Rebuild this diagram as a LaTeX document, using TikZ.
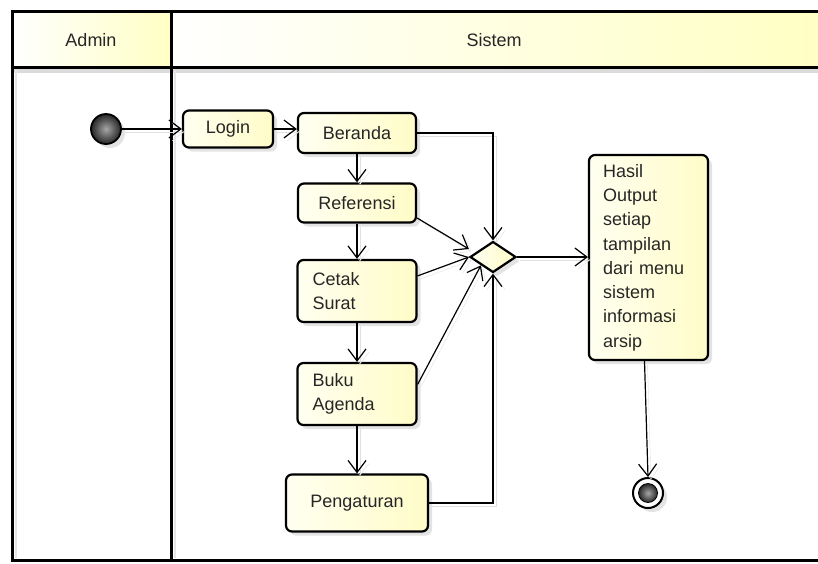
\documentclass[tikz,border=0pt]{standalone}
\usepackage{fontspec}
\setmainfont{Liberation Sans}
\usetikzlibrary{arrows.meta,shapes.geometric,shadows,calc}

\definecolor{cream}{RGB}{255,255,240}
\definecolor{creamdeep}{RGB}{255,252,200}
\definecolor{lanefill}{RGB}{255,255,196}

\begin{document}
\begin{tikzpicture}[x=1pt,y=-1pt,
  font=\fontsize{18}{24.3}\selectfont,
  act/.style={draw=black, line width=2.2pt, rounded corners=6pt,
    left color=cream, right color=creamdeep, text=black!85, inner sep=0pt,
    drop shadow={shadow xshift=4pt, shadow yshift=-4pt, fill=black!22}},
  flow/.style={line width=1.2pt, -{Straight Barb[length=12pt,width=18pt]},
    preaction={draw=black!12, transform canvas={shift={(3pt,-3pt)}}}},
  lane/.style={line width=3pt, line cap=rect},
  pseudo/.style={circle, inner sep=0pt,
    drop shadow={shadow xshift=4pt, shadow yshift=-4pt, fill=black!22}}
]
\useasboundingbox (0,0) rectangle (818,563);

% swimlane headers
\fill[left color=white, right color=lanefill] (12,11) rectangle (171,67);
\fill[left color=white, right color=lanefill] (171,11) rectangle (818,67);
% soft shadows of the lane borders
\fill[black!14] (12,69) rectangle (818,73);
\draw[black!10, line width=2pt] (16,70) -- (16,558);
\draw[black!10, line width=2pt] (175,70) -- (175,558);
% lane borders
\draw[lane] (12,11) -- (818,11);
\draw[lane] (12,67) -- (818,67);
\draw[lane] (12,560) -- (818,560);
\draw[lane] (12,11) -- (12,560);
\draw[lane] (171,11) -- (171,560);

\node[text=black!85] (adminhd) at (91,40) {Admin};
\node[text=black!85] (sistemhd) at (494,40) {Sistem};

% start and end
\node[pseudo, draw=black, line width=1.8pt, minimum size=30pt,
      inner color=gray!70, outer color=black!85] (init) at (106,129) {};
\node[pseudo, draw=black, line width=2pt, minimum size=30pt, fill=white] (final) at (648,493) {};
\node[circle, inner sep=0pt, draw=black, line width=0.8pt, minimum size=19pt,
      inner color=gray!70, outer color=black!85] (finaldot) at (final) {};

% activities
\node[act, minimum width=90pt, minimum height=37pt] (login) at (228,129) {Login};
\node[act, minimum width=118pt, minimum height=40pt] (beranda) at (357,133) {Beranda};
\node[act, minimum width=118pt, minimum height=39pt] (referensi) at (357,203) {Referensi};
\node[act, minimum height=62pt, text width=89pt, inner xsep=15pt, align=left] (cetak) at (357,291) {Cetak\\Surat};
\node[act, minimum height=62pt, text width=89pt, inner xsep=15pt, align=left] (buku) at (357,394) {Buku\\Agenda};
\node[act, minimum width=142pt, minimum height=57pt] (peng) at (357,503) {Pengaturan};
\node[act, minimum height=205pt, text width=91pt, inner xsep=14pt, align=left] (hasil) at (648.5,257.5)
  {Hasil\\Output\\setiap\\tampilan\\dari menu\\sistem\\informasi\\arsip};

% merge
\node[diamond, draw=black, line width=2.2pt, minimum width=46pt, minimum height=31pt,
      aspect=1.5, inner sep=0pt, left color=cream, right color=creamdeep,
      drop shadow={shadow xshift=4pt, shadow yshift=-4pt, fill=black!22}] (dec) at (493,257) {};

% flows
\draw[flow] (init) -- (login);
\draw[flow] (login.east) -- (login.east -| beranda.west);
\draw[flow] (beranda.east) -| (dec.north);
\draw[flow] (beranda) -- (referensi);
\draw[flow] (referensi.-14) -- ($(dec.west)+(0,-8)$);
\draw[flow] (referensi) -- (cetak);
\draw[flow] (cetak.14) -- (dec.west);
\draw[flow] (cetak) -- (buku);
\draw[flow] (buku.9) -- (dec.south west);
\draw[flow] (buku) -- (peng);
\draw[flow] (peng.east) -| (dec.south);
\draw[flow] (dec.east) -- (dec.east -| hasil.west);
\draw[flow] ($(hasil.south)+(-4,0)$) -- (final.north);
\end{tikzpicture}
\end{document}
